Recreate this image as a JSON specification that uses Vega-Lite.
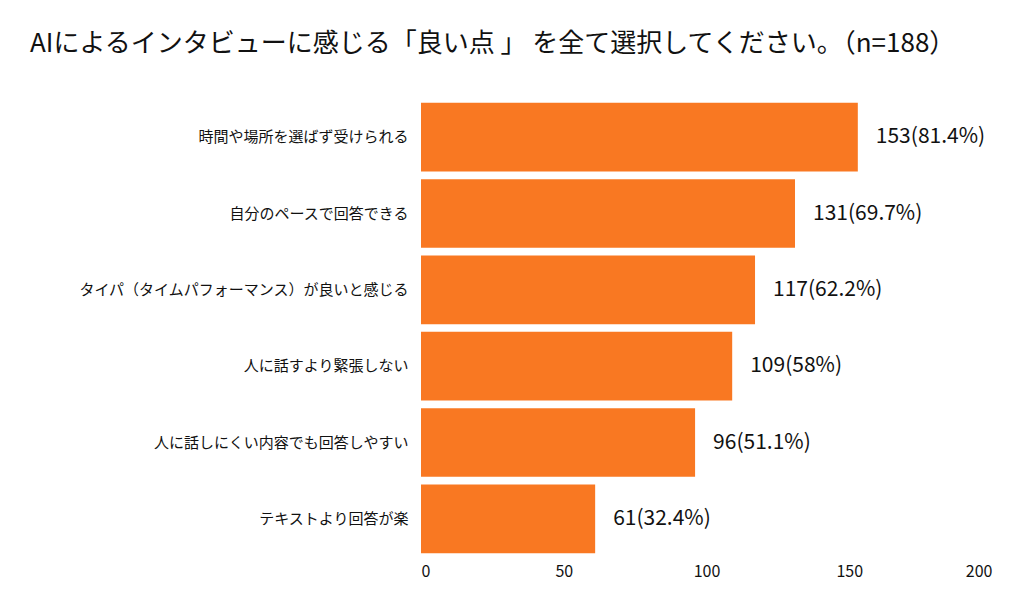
{
  "$schema": "https://vega.github.io/schema/vega-lite/v6.json",
  "description": "AIによるインタビューに感じる良い点 (n=188)",
  "autosize": {"type": "none"},
  "padding": {"left": 421, "top": 99, "right": 32, "bottom": 38},
  "width": 571,
  "height": 458,
  "background": "white",
  "config": {
    "font": "Noto Sans CJK JP",
    "view": {"stroke": null}
  },
  "title": {
    "text": "AIによるインタビューに感じる「良い点 」 を全て選択してください。（n=188）",
    "anchor": "start",
    "frame": "group",
    "dx": -391,
    "offset": 42,
    "fontSize": 26,
    "fontWeight": "normal",
    "color": "#111111"
  },
  "data": {
    "values": [
      {"item": "時間や場所を選ばず受けられる", "count": 153, "label": "153(81.4%)"},
      {"item": "自分のペースで回答できる", "count": 131, "label": "131(69.7%)"},
      {"item": "タイパ（タイムパフォーマンス）が良いと感じる", "count": 117, "label": "117(62.2%)"},
      {"item": "人に話すより緊張しない", "count": 109, "label": "109(58%)"},
      {"item": "人に話しにくい内容でも回答しやすい", "count": 96, "label": "96(51.1%)"},
      {"item": "テキストより回答が楽", "count": 61, "label": "61(32.4%)"}
    ]
  },
  "encoding": {
    "y": {
      "field": "item",
      "type": "nominal",
      "sort": null,
      "title": null,
      "scale": {"paddingInner": 0.1, "paddingOuter": 0.05},
      "axis": {
        "domain": false,
        "ticks": false,
        "labelFontSize": 15,
        "labelColor": "#111111",
        "labelPadding": 13,
        "labelLimit": 400
      }
    },
    "x": {
      "field": "count",
      "type": "quantitative",
      "title": null,
      "scale": {"domain": [0, 200]},
      "axis": {
        "values": [0, 50, 100, 150, 200],
        "grid": false,
        "domain": false,
        "ticks": false,
        "labelFontSize": 16,
        "labelColor": "#111111",
        "labelPadding": 6
      }
    }
  },
  "layer": [
    {"mark": {"type": "bar", "color": "#F97822"}},
    {
      "mark": {"type": "text", "align": "left", "dx": 18, "fontSize": 21, "color": "#111111"},
      "encoding": {"text": {"field": "label"}}
    }
  ]
}
